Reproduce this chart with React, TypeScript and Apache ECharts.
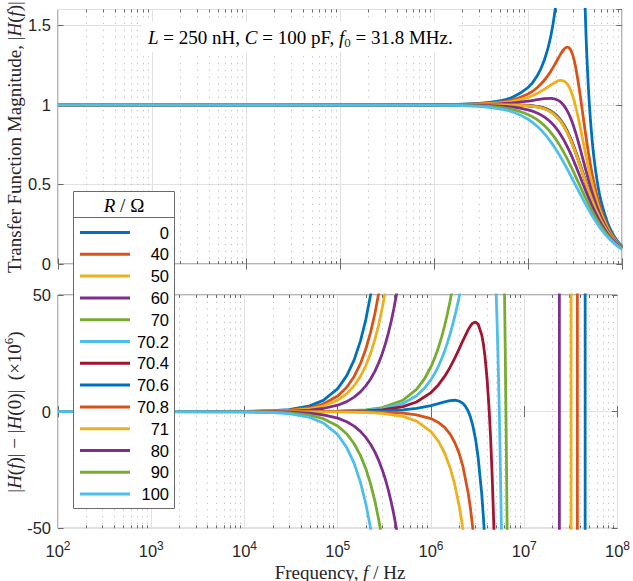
import React, { useEffect, useRef } from 'react';
import * as echarts from 'echarts';

// ---------- data ----------
const R_LABELS = ['0', '40', '50', '60', '70', '70.2', '70.4', '70.6', '70.8', '71', '80', '90', '100'];
const COLORS = ['#0072BD', '#D95319', '#EDB120', '#7E2F8E', '#77AC30', '#4DBEEE', '#A2142F',
  '#0072BD', '#D95319', '#EDB120', '#7E2F8E', '#77AC30', '#4DBEEE'];

// top panel: |H(f)| at these frequencies (Hz)
const F_TOP = [1e2, 1e6, 3e6, 5e6, 7e6, 1e7, 1.25e7, 1.5e7, 1.75e7, 2e7, 2.2e7, 2.4e7, 2.6e7, 2.8e7, 3e7,
  3.2e7, 3.5e7, 3.8e7, 4.1e7, 4.4e7, 4.7e7, 5e7, 5.5e7, 6e7, 7e7, 8e7, 9e7, 1e8];

const H_R0 = [1, 1.001, 1.009, 1.0253, 1.0508, 1.1095, 1.1823, 1.2855, 1.4332, 1.6523, 1.9146, 2.3174, 3.0047, 4.4204,
  8.9497, 93.92, 4.7841, 2.352, 1.5173, 1.098, 0.8473, 0.6815, 0.5036, 0.3917, 0.2607, 0.1881, 0.143, 0.1127];
const H_R40 = [1, 1.0007, 1.0061, 1.0169, 1.0333, 1.0687, 1.1083, 1.1568, 1.2124, 1.2711, 1.3147, 1.3484, 1.3637, 1.3528,
  1.312, 1.2433, 1.106, 0.9566, 0.8175, 0.698, 0.5989, 0.5176, 0.4133, 0.3373, 0.237, 0.1759, 0.136, 0.1085];
const H_R50 = [1, 1.0005, 1.0044, 1.0123, 1.0238, 1.0477, 1.0724, 1.0995, 1.1257, 1.1463, 1.1543, 1.1511, 1.1338, 1.101,
  1.0537, 0.9947, 0.8935, 0.7891, 0.6911, 0.6041, 0.529, 0.4652, 0.3799, 0.3151, 0.2262, 0.17, 0.1326, 0.1063];
const H_R60 = [1, 1.0003, 1.0025, 1.0067, 1.0126, 1.0236, 1.0328, 1.0398, 1.0414, 1.0343, 1.0203, 0.9976, 0.9661, 0.9263,
  0.8799, 0.8289, 0.7485, 0.6692, 0.5951, 0.5284, 0.4697, 0.4186, 0.3483, 0.2932, 0.2148, 0.1636, 0.1286, 0.1038];
const H_R70 = [1, 1, 1.0001, 1.0002, 0.9998, 0.9971, 0.9913, 0.9804, 0.9626, 0.9366, 0.9094, 0.8769, 0.8396, 0.7987,
  0.7552, 0.7105, 0.6437, 0.5799, 0.5208, 0.4675, 0.4201, 0.3783, 0.3195, 0.2723, 0.2033, 0.1569, 0.1244, 0.101];
const H_R70_2 = [1, 1, 1.0001, 1.0001, 0.9995, 0.9966, 0.9905, 0.9792, 0.9611, 0.9347, 0.9074, 0.8748, 0.8374, 0.7964,
  0.753, 0.7085, 0.6419, 0.5783, 0.5195, 0.4665, 0.4192, 0.3775, 0.319, 0.2719, 0.2031, 0.1567, 0.1243, 0.101];
const H_R70_4 = [1, 1, 1, 0.9999, 0.9993, 0.996, 0.9896, 0.978, 0.9596, 0.9329, 0.9054, 0.8726, 0.8352, 0.7943,
  0.7509, 0.7065, 0.6401, 0.5768, 0.5182, 0.4654, 0.4183, 0.3768, 0.3184, 0.2715, 0.2028, 0.1566, 0.1243, 0.1009];
const H_R70_6 = [1, 1, 1, 0.9998, 0.999, 0.9955, 0.9888, 0.9769, 0.9581, 0.9311, 0.9034, 0.8705, 0.8331, 0.7921,
  0.7488, 0.7045, 0.6383, 0.5752, 0.5169, 0.4643, 0.4174, 0.376, 0.3179, 0.2711, 0.2026, 0.1564, 0.1242, 0.1008];
const H_R70_8 = [1, 1, 0.9999, 0.9996, 0.9987, 0.9949, 0.9879, 0.9757, 0.9566, 0.9293, 0.9014, 0.8684, 0.8309, 0.7899,
  0.7467, 0.7025, 0.6366, 0.5737, 0.5156, 0.4632, 0.4165, 0.3753, 0.3174, 0.2707, 0.2024, 0.1563, 0.1241, 0.1008];
const H_R71 = [1, 1, 0.9999, 0.9995, 0.9984, 0.9944, 0.9871, 0.9745, 0.9551, 0.9275, 0.8995, 0.8663, 0.8287, 0.7878,
  0.7446, 0.7005, 0.6348, 0.5722, 0.5144, 0.4621, 0.4156, 0.3745, 0.3168, 0.2703, 0.2022, 0.1562, 0.124, 0.1007];
const H_R80 = [1, 0.9997, 0.9975, 0.9929, 0.9856, 0.969, 0.9491, 0.9231, 0.8907, 0.8522, 0.8177, 0.7805, 0.7415, 0.7015,
  0.6613, 0.6217, 0.5644, 0.511, 0.4622, 0.4181, 0.3787, 0.3436, 0.2938, 0.2531, 0.1921, 0.15, 0.1201, 0.0981];
const H_R90 = [1, 0.9994, 0.9945, 0.9848, 0.9702, 0.9398, 0.9072, 0.8689, 0.8259, 0.7796, 0.7411, 0.7022, 0.6634, 0.6252,
  0.5882, 0.5526, 0.5025, 0.4565, 0.4149, 0.3774, 0.3439, 0.3139, 0.271, 0.2355, 0.1814, 0.1433, 0.1156, 0.0951];
const H_R100 = [1, 0.999, 0.9912, 0.9759, 0.9539, 0.9102, 0.8664, 0.8183, 0.7679, 0.717, 0.6767, 0.6376, 0.5998, 0.5638,
  0.5296, 0.4974, 0.4527, 0.4123, 0.3761, 0.3436, 0.3144, 0.2884, 0.2509, 0.2196, 0.1713, 0.1367, 0.1112, 0.092];

const TOP_VALUES = [H_R0, H_R40, H_R50, H_R60, H_R70, H_R70_2, H_R70_4, H_R70_6, H_R70_8, H_R71, H_R80, H_R90, H_R100];

// bottom panel: (|H(f)| - |H(0)|) x 1e6, as [frequency, value]
const D_R0 = [[1e2, 0], [1e3, 0.001], [1e4, 0.099], [2e4, 0.395], [3e4, 0.888], [5e4, 2.467], [7e4, 4.836], [1e5, 9.87],
  [1.25e5, 15.42], [1.5e5, 22.21], [1.75e5, 30.23], [2e5, 39.48], [2.25e5, 49.97], [2.5e5, 61.69], [4.49e7, 10397], [4.51e7, -7434]];
const D_R40 = [[1e2, 0], [1e3, 0.001], [1e4, 0.067], [2e4, 0.268], [3e4, 0.604], [5e4, 1.678], [7e4, 3.289], [1e5, 6.711],
  [1.25e5, 10.49], [1.5e5, 15.1], [1.75e5, 20.55], [2e5, 26.85], [2.25e5, 33.98], [2.5e5, 41.95], [2.75e5, 50.75], [3e5, 60.4],
  [3.7e7, 6034], [3.725e7, -6380]];
const D_R50 = [[1e2, 0], [1e4, 0.049], [2e4, 0.197], [3e4, 0.444], [5e4, 1.234], [7e4, 2.418], [1e5, 4.935], [1.25e5, 7.711],
  [1.5e5, 11.1], [1.75e5, 15.11], [2e5, 19.74], [2.25e5, 24.98], [2.5e5, 30.84], [2.75e5, 37.32], [3e5, 44.41], [3.25e5, 52.12],
  [3.5e5, 60.45], [3.17e7, 4098], [3.195e7, -3752]];
const D_R60 = [[1e2, 0], [1e4, 0.028], [2e4, 0.111], [3e4, 0.249], [5e4, 0.691], [7e4, 1.354], [1e5, 2.763], [1.25e5, 4.318],
  [1.5e5, 6.218], [1.75e5, 8.463], [2e5, 11.05], [2.25e5, 13.99], [2.5e5, 17.27], [2.75e5, 20.9], [3e5, 24.87], [3.25e5, 29.19],
  [3.5e5, 33.85], [3.75e5, 38.86], [4e5, 44.21], [4.25e5, 49.9], [4.5e5, 55.96], [2.37e7, 1566], [2.395e7, -1729]];
const D_R70 = [[1e2, 0], [1e4, 0.002], [3e4, 0.018], [1e5, 0.197], [2e5, 0.789], [3e5, 1.773], [5e5, 4.904], [7e5, 9.555],
  [8.5e5, 14.01], [1e6, 19.25], [1.1e6, 23.17], [1.2e6, 27.42], [1.3e6, 31.97], [1.4e6, 36.82], [1.5e6, 41.95], [1.6e6, 47.34],
  [1.7e6, 52.98], [3.8e6, 183.53], [6e6, 79.41], [6.1e6, 60.15], [6.2e6, 39.1], [6.3e6, 16.21], [6.4e6, -8.61],
  [6.5e6, -35.43], [6.6e6, -64.31]];
const D_R70_2 = [[1e2, 0], [1e4, 0.001], [1e5, 0.142], [2e5, 0.567], [3e5, 1.274], [5e5, 3.521], [7e5, 6.843], [8.5e5, 10.01],
  [1e6, 13.72], [1.1e6, 16.47], [1.2e6, 19.44], [1.3e6, 22.61], [1.4e6, 25.97], [1.5e6, 29.5], [1.6e6, 33.17], [1.7e6, 36.98],
  [1.8e6, 40.91], [1.9e6, 44.93], [2e6, 49.03], [2.1e6, 53.17], [3.3e6, 96.94], [5e6, 50.71], [5.1e6, 39.96], [5.2e6, 27.98],
  [5.3e6, 14.7], [5.4e6, 0.06], [5.5e6, -16], [5.6e6, -33.54], [5.7e6, -52.62]];
const D_R70_4 = [[1e2, 0], [1e4, 0.001], [1e5, 0.086], [2e5, 0.345], [3e5, 0.775], [5e5, 2.133], [7e5, 4.123], [1e6, 8.167],
  [1.2e6, 11.45], [1.4e6, 15.09], [1.6e6, 18.96], [1.8e6, 22.93], [2e6, 26.82], [2.2e6, 30.48], [2.5e6, 35.06], [2.65e6, 36.75],
  [2.8e6, 37.91], [3e6, 38.43], [3.2e6, 37.55], [3.5e6, 32.92], [3.65e6, 28.84], [3.8e6, 23.4], [4e6, 13.78], [4.2e6, 1.1],
  [4.35e6, -10.64], [4.5e6, -24.48], [4.7e6, -46.5], [4.8e6, -59.16]];
const D_R70_6 = [[1e2, 0], [1e5, 0.031], [2e5, 0.123], [3e5, 0.274], [5e5, 0.741], [7e5, 1.396], [1e6, 2.6], [1.2e6, 3.436],
  [1.4e6, 4.18], [1.6e6, 4.711], [1.8e6, 4.89], [2e6, 4.556], [2.2e6, 3.533], [2.35e6, 2.195], [2.5e6, 0.27], [2.65e6, -2.339],
  [2.8e6, -5.733], [3e6, -11.67], [3.2e6, -19.46], [3.5e6, -35.27], [3.65e6, -45.31], [3.8e6, -56.97]];
const D_R70_8 = [[1e2, 0], [1e5, -0.025], [2e5, -0.101], [3e5, -0.228], [5e5, -0.654], [7e5, -1.34], [1e6, -2.982],
  [1.2e6, -4.603], [1.4e6, -6.761], [1.6e6, -9.579], [1.8e6, -13.2], [2e6, -17.77], [2.2e6, -23.48], [2.5e6, -34.62],
  [2.65e6, -41.54], [2.8e6, -49.49], [3e6, -61.9]];
const D_R71 = [[1e2, 0], [1e5, -0.081], [2e5, -0.325], [3e5, -0.732], [5e5, -2.054], [7e5, -4.083], [1e6, -8.58],
  [1.2e6, -12.66], [1.4e6, -17.73], [1.6e6, -23.91], [1.8e6, -31.33], [2e6, -40.16], [2.1e6, -45.16], [2.2e6, -50.58], [2.5e6, -69.6]];
const D_R80 = [[1e2, 0], [1e4, -0.028], [2e4, -0.111], [3e4, -0.249], [5e4, -0.691], [7e4, -1.354], [1e5, -2.763],
  [1.25e5, -4.318], [1.5e5, -6.218], [1.75e5, -8.463], [2e5, -11.05], [2.25e5, -13.99], [2.5e5, -17.27], [2.75e5, -20.9],
  [3e5, -24.87], [3.25e5, -29.19], [3.5e5, -33.85], [3.75e5, -38.86], [4e5, -44.21], [4.25e5, -49.93], [4.5e5, -55.97]];
const D_R90 = [[1e2, 0], [1e4, -0.061], [2e4, -0.245], [3e4, -0.551], [5e4, -1.53], [7e4, -2.998], [1e5, -6.119],
  [1.25e5, -9.561], [1.5e5, -13.77], [1.75e5, -18.74], [2e5, -24.48], [2.25e5, -30.98], [2.5e5, -38.24], [2.75e5, -46.28], [3e5, -55.07]];
const D_R100 = [[1e2, 0], [1e3, -0.001], [1e4, -0.099], [2e4, -0.395], [3e4, -0.888], [5e4, -2.467], [7e4, -4.836], [1e5, -9.87],
  [1.25e5, -15.42], [1.5e5, -22.21], [1.75e5, -30.23], [2e5, -39.48], [2.25e5, -49.96], [2.5e5, -61.68]];

const BOTTOM_VALUES = [D_R0, D_R40, D_R50, D_R60, D_R70, D_R70_2, D_R70_4, D_R70_6, D_R70_8, D_R71, D_R80, D_R90, D_R100];

// minor (2..9 x decade) tick positions for the log axis
const MINOR_MULTIPLIERS = [2, 3, 4, 5, 6, 7, 8, 9];
const DECADES = [1e2, 1e3, 1e4, 1e5, 1e6, 1e7];
const MINOR_X = DECADES.flatMap((d) => MINOR_MULTIPLIERS.map((k) => k * d));

// ---------- styles ----------
const SANS = "'Liberation Sans', Arial, Helvetica, sans-serif";
const SERIF = "'Liberation Serif', 'Times New Roman', serif";
const AXIS = '#6a6a6a';
const TXT = '#262626';
const GRID = '#e2e2e2';
const MINOR = '#bdbdbd';

const serifRich = {
  r: { fontFamily: SERIF, fontSize: 19, fill: TXT, lineHeight: 24 },
  i: { fontFamily: SERIF, fontSize: 19, fill: TXT, fontStyle: 'italic', lineHeight: 24 },
  sup: { fontFamily: SERIF, fontSize: 13, fill: TXT, lineHeight: 13, verticalAlign: 'top' },
  sub: { fontFamily: SERIF, fontSize: 13, fill: TXT, lineHeight: 13, verticalAlign: 'bottom' },
};

function minorRender(params: any, api: any) {
  const cs = params.coordSys;
  const x = Math.round(api.coord([api.value(0), api.value(1)])[0]) + 0.5;
  const top = cs.y;
  const bottom = cs.y + cs.height;
  return {
    type: 'group',
    children: [
      { type: 'line', shape: { x1: x, y1: top, x2: x, y2: bottom }, style: { stroke: MINOR, lineWidth: 1, lineDash: [1.2, 5.5] } },
      { type: 'line', shape: { x1: x, y1: bottom, x2: x, y2: bottom - 3 }, style: { stroke: AXIS, lineWidth: 1 } },
      { type: 'line', shape: { x1: x, y1: top, x2: x, y2: top + 3 }, style: { stroke: AXIS, lineWidth: 1 } },
    ],
  };
}

function xAxisDef(gridIndex: number, position: string, labels: boolean) {
  return {
    type: 'log', logBase: 10, min: 100, max: 1e8, gridIndex, position,
    axisLine: { show: false },
    axisTick: { show: true, inside: true, length: 5.6, lineStyle: { color: AXIS, width: 1 } },
    axisLabel: labels
      ? {
          show: true, margin: 12,
          formatter: (v: number) => `{b|10}{s|${Math.round(Math.log10(v))}}`,
          rich: {
            b: { fontFamily: SANS, fontSize: 16.5, color: TXT, lineHeight: 22 },
            s: { fontFamily: SANS, fontSize: 12, color: TXT, lineHeight: 12, verticalAlign: 'top' },
          },
        }
      : { show: false },
    splitLine: { show: position === 'bottom', lineStyle: { color: GRID, width: 1 } },
    minorTick: { show: false },
    minorSplitLine: { show: false },
  };
}

function yAxisDef(gridIndex: number, position: string, min: number, max: number, interval: number, labels: boolean) {
  return {
    type: 'value', gridIndex, position, min, max, interval,
    axisLine: { show: false },
    axisTick: { show: true, inside: true, length: 5.6, lineStyle: { color: AXIS, width: 1 } },
    axisLabel: labels
      ? { show: true, margin: 7, fontFamily: SANS, fontSize: 16.5, color: TXT, showMaxLabel: max === 1.6 ? false : true }
      : { show: false },
    splitLine: { show: position === 'left', lineStyle: { color: GRID, width: 1 } },
  };
}

function buildOption() {
  const topSeries = TOP_VALUES.map((vals, i) => ({
    type: 'line', name: R_LABELS[i], xAxisIndex: 0, yAxisIndex: 0,
    data: F_TOP.map((f, j) => [f, vals[j]]),
    symbol: 'none', showSymbol: false, smooth: 0.3, clip: true,
    lineStyle: { width: 2.8, color: COLORS[i] }, itemStyle: { color: COLORS[i] },
    emphasis: { disabled: true }, z: 3,
  }));
  const bottomSeries = BOTTOM_VALUES.map((vals, i) => ({
    type: 'line', name: R_LABELS[i], xAxisIndex: 2, yAxisIndex: 2,
    data: vals,
    symbol: 'none', showSymbol: false, smooth: false, clip: true,
    lineStyle: { width: 2.8, color: COLORS[i] }, itemStyle: { color: COLORS[i] },
    emphasis: { disabled: true }, z: 3,
  }));
  const minorSeries = [0, 2].map((idx) => ({
    type: 'custom', name: 'minor-grid-' + idx, xAxisIndex: idx, yAxisIndex: idx,
    data: MINOR_X.map((f) => [f, 0]), renderItem: minorRender, silent: true, z: 1, clip: false,
  }));

  return {
    animation: false,
    backgroundColor: '#ffffff',
    textStyle: { fontFamily: SANS },
    grid: [
      { left: 58, top: 9.5, width: 564, height: 254.5, show: true, borderColor: AXIS, borderWidth: 1, backgroundColor: 'transparent' },
      { left: 58, top: 295, width: 564, height: 233.3, show: true, borderColor: AXIS, borderWidth: 1, backgroundColor: 'transparent' },
    ],
    xAxis: [xAxisDef(0, 'bottom', false), xAxisDef(0, 'top', false), xAxisDef(1, 'bottom', true), xAxisDef(1, 'top', false)],
    yAxis: [
      yAxisDef(0, 'left', 0, 1.6, 0.5, true), yAxisDef(0, 'right', 0, 1.6, 0.5, false),
      yAxisDef(1, 'left', -50, 50, 50, true), yAxisDef(1, 'right', -50, 50, 50, false),
    ],
    legend: {
      data: R_LABELS,
      orient: 'vertical', left: 80, top: 224, padding: 0, itemGap: 4.8,
      itemWidth: 50, itemHeight: 3, icon: 'rect', selectedMode: false, z: 120,
      formatter: '{n|{name}}',
      textStyle: {
        color: '#000', fontFamily: SANS, fontSize: 16.5,
        rich: { n: { width: 34, align: 'right', fontFamily: SANS, fontSize: 16.5, color: '#000' } },
      },
    },
    graphic: [
      {
        type: 'text', x: 142, y: 37, z: 50,
        style: {
          text: '{i|L}{r| = 250 nH, }{i|C}{r| = 100 pF, }{i|f}{sub|0}{r| = 31.8 MHz.}',
          rich: { ...serifRich, r: { ...serifRich.r, fill: '#000' }, i: { ...serifRich.i, fill: '#000' } },
          backgroundColor: '#ffffff', padding: [3, 6, 3, 6],
          align: 'left', verticalAlign: 'middle', textAlign: 'left', textVerticalAlign: 'middle',
        },
      },
      {
        type: 'text', x: 14, y: 137, rotation: Math.PI / 2, z: 50,
        style: {
          text: '{r|Transfer Function Magnitude, |}{i|H}{r|(}{i|f}{r|)|}',
          rich: serifRich, align: 'center', verticalAlign: 'middle', textAlign: 'center', textVerticalAlign: 'middle',
        },
      },
      {
        type: 'text', x: 14, y: 412, rotation: Math.PI / 2, z: 50,
        style: {
          text: '{r||}{i|H}{r|(}{i|f}{r|)| \u2212 |}{i|H}{r|(0)|  (\u00D710}{sup|6}{r|)}',
          rich: serifRich, align: 'center', verticalAlign: 'middle', textAlign: 'center', textVerticalAlign: 'middle',
        },
      },
      {
        type: 'text', x: 340, y: 572, z: 50,
        style: {
          text: '{r|Frequency, }{i|f}{r| / Hz}',
          rich: serifRich, align: 'center', verticalAlign: 'middle', textAlign: 'center', textVerticalAlign: 'middle',
        },
      },
      {
        type: 'rect', z: 100,
        shape: { x: 73.5, y: 191.5, width: 101, height: 317 },
        style: { fill: '#ffffff', stroke: AXIS, lineWidth: 1 },
      },
      {
        type: 'line', z: 101,
        shape: { x1: 73.5, y1: 217.5, x2: 174.5, y2: 217.5 },
        style: { stroke: AXIS, lineWidth: 1 },
      },
      {
        type: 'text', x: 124, y: 205, z: 101,
        style: {
          text: '{i|R}{r| / \u03A9}',
          rich: { ...serifRich, r: { ...serifRich.r, fill: '#000' }, i: { ...serifRich.i, fill: '#000' } },
          align: 'center', verticalAlign: 'middle', textAlign: 'center', textVerticalAlign: 'middle',
        },
      },
    ],
    series: [...minorSeries, ...topSeries, ...bottomSeries],
  };
}

export default function App() {
  const ref = useRef<HTMLDivElement>(null);
  useEffect(() => {
    if (!ref.current) return;
    const chart = echarts.init(ref.current, undefined, { renderer: 'svg' });
    chart.setOption(buildOption() as any);
    return () => chart.dispose();
  }, []);
  return (
    <div
      ref={ref}
      style={{ position: 'fixed', left: 0, top: 0, width: 633, height: 581, background: '#ffffff' }}
    />
  );
}
